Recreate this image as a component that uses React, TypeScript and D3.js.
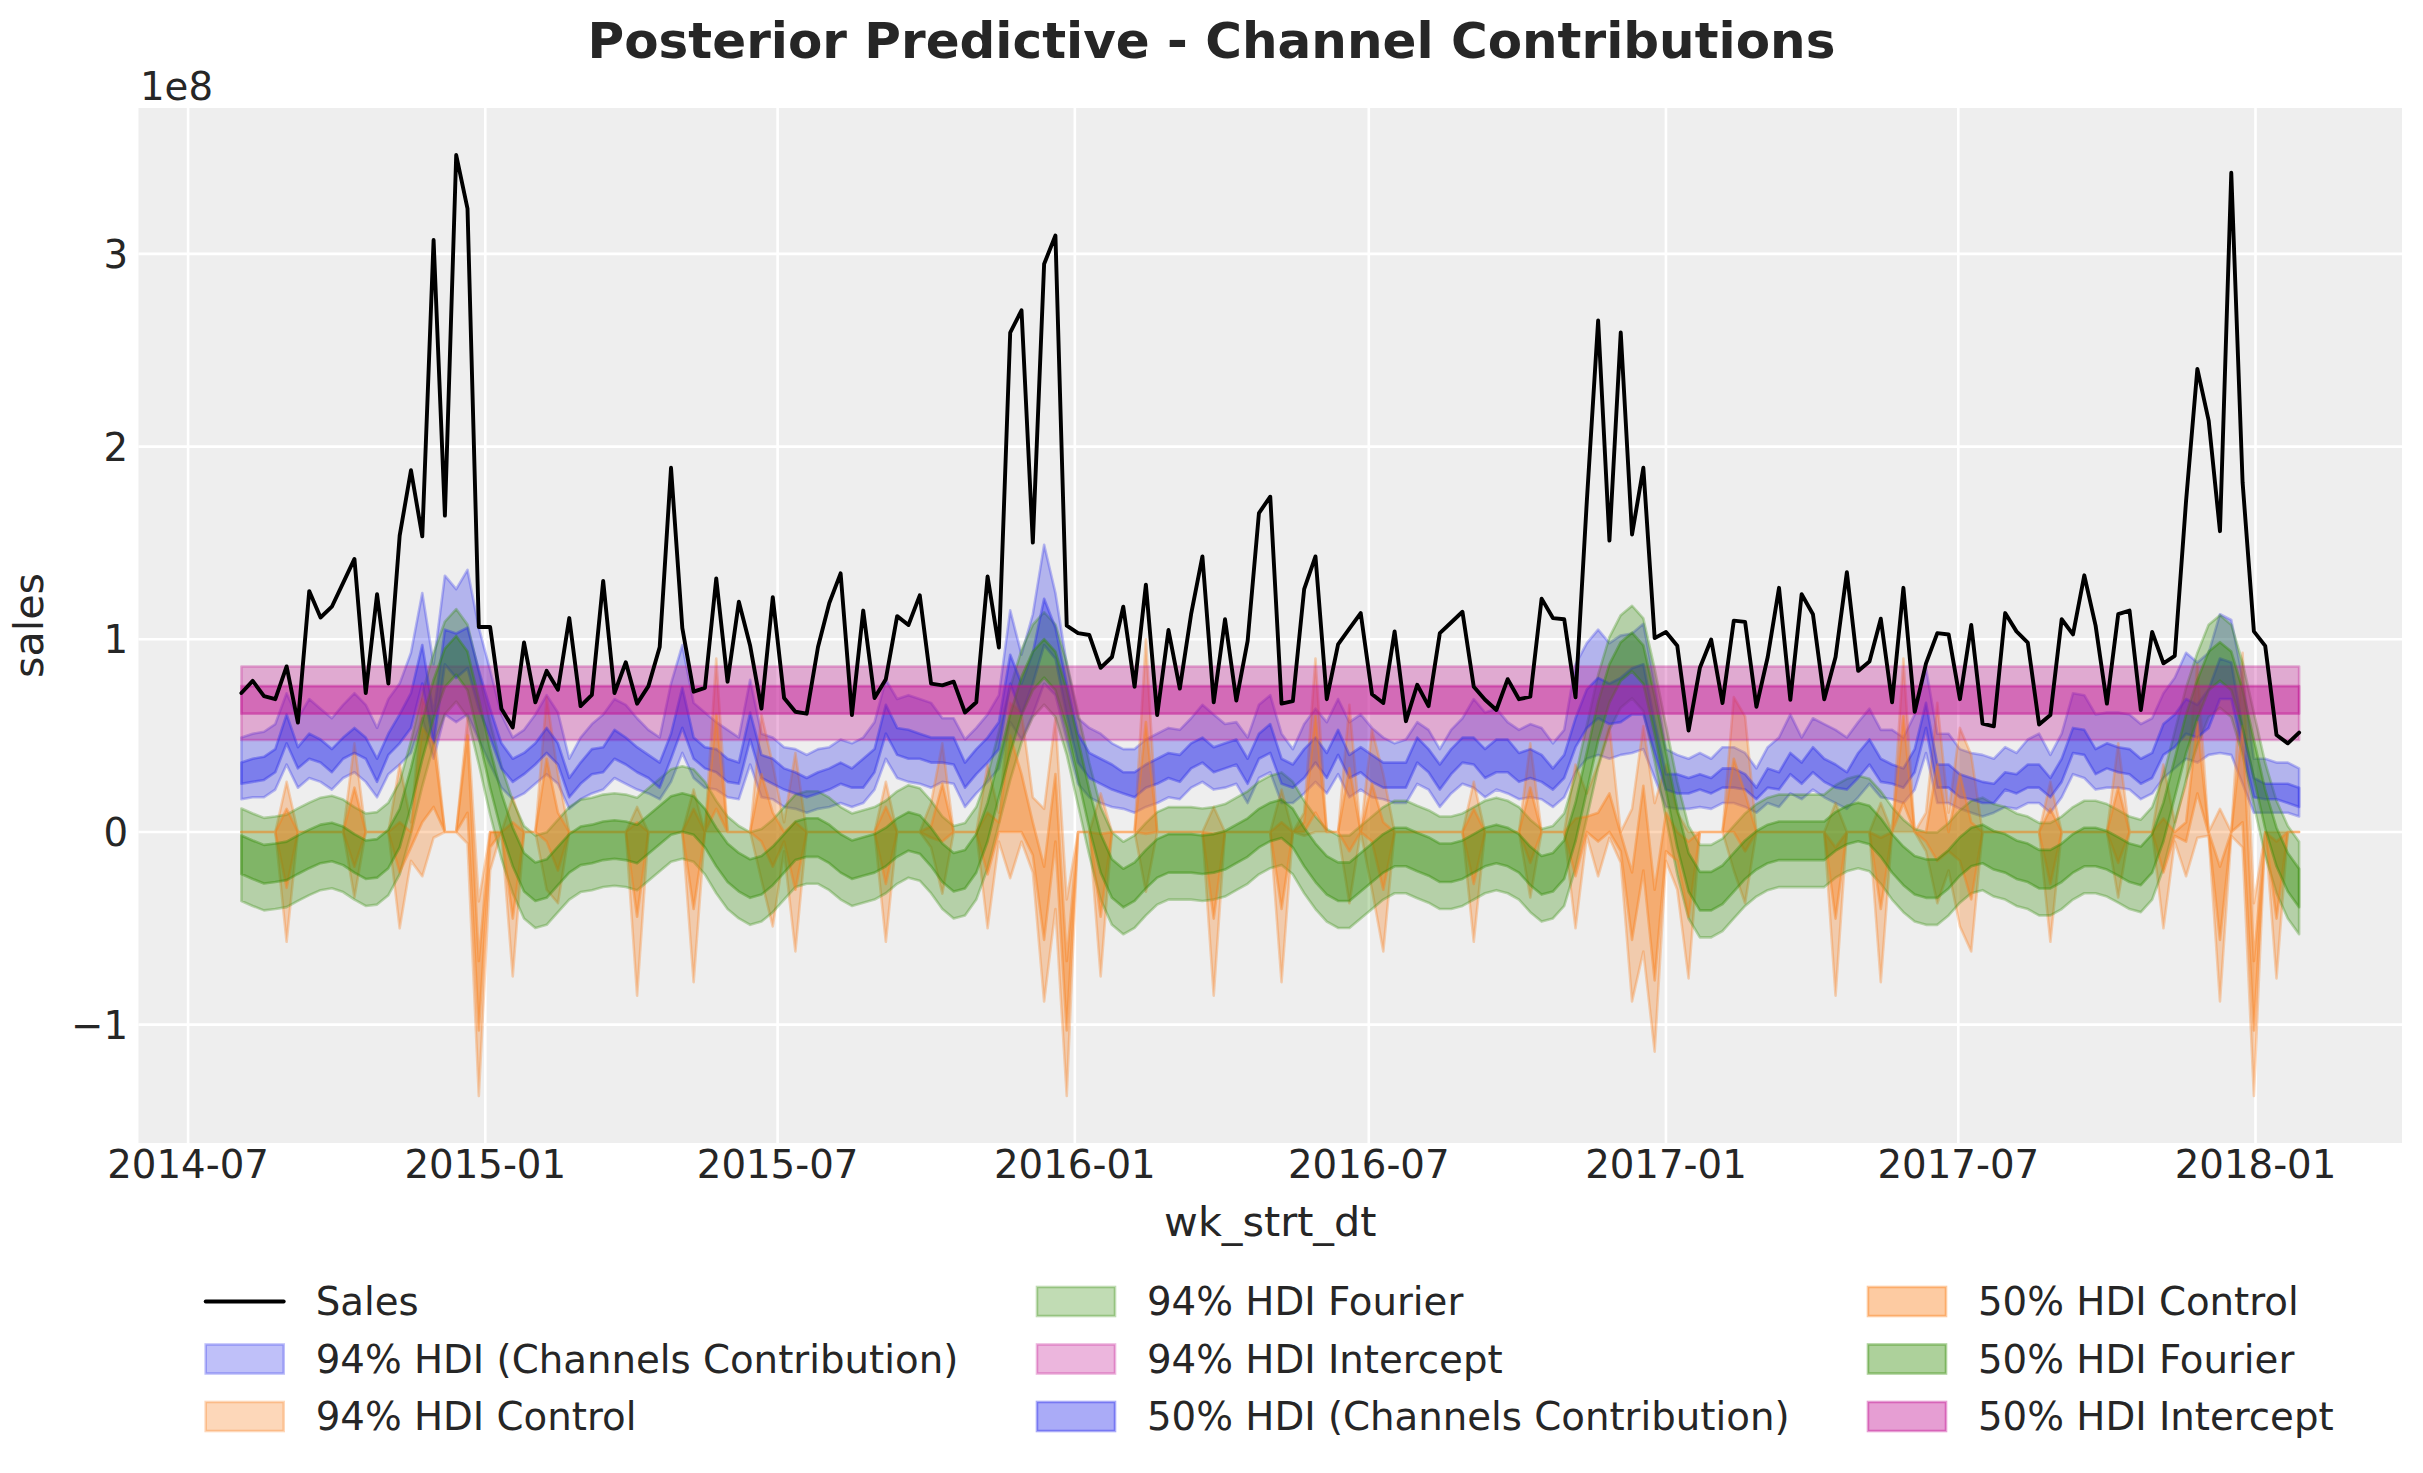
import React from 'react';
import * as d3 from 'd3';

// ---------- data (values in units of 1e8) ----------
const startDate = new Date(2014, 7, 3);

const sales = [
  0.721,0.784,0.705,0.689,0.859,0.568,1.250,1.113,1.169,1.293,
  1.417,0.721,1.234,0.770,1.538,1.877,1.534,3.072,1.642,3.513,
  3.235,1.064,1.064,0.640,0.542,0.983,0.673,0.836,0.738,1.110,
  0.653,0.712,1.303,0.721,0.881,0.666,0.757,0.960,1.890,1.058,
  0.728,0.748,1.316,0.780,1.195,0.966,0.640,1.218,0.695,0.624,
  0.614,0.960,1.188,1.342,0.607,1.149,0.695,0.793,1.120,1.074,
  1.228,0.770,0.761,0.780,0.620,0.673,1.326,0.957,2.592,2.707,
  1.502,2.948,3.095,1.071,1.032,1.022,0.852,0.908,1.169,0.754,
  1.283,0.607,1.048,0.744,1.130,1.430,0.673,1.104,0.682,0.992,
  1.655,1.740,0.666,0.679,1.260,1.430,0.689,0.973,1.055,1.136,
  0.715,0.669,1.041,0.575,0.764,0.653,1.032,1.087,1.143,0.754,
  0.686,0.633,0.793,0.689,0.702,1.211,1.110,1.104,0.699,1.717,
  2.654,1.512,2.592,1.544,1.890,1.006,1.038,0.966,0.526,0.852,
  0.999,0.669,1.097,1.090,0.650,0.908,1.267,0.686,1.234,1.130,
  0.689,0.908,1.348,0.836,0.885,1.107,0.673,1.267,0.624,0.875,
  1.032,1.025,0.689,1.074,0.562,0.548,1.136,1.041,0.983,0.558,
  0.607,1.104,1.025,1.332,1.071,0.666,1.130,1.149,0.633,1.038,
  0.875,0.914,1.717,2.403,2.135,1.561,3.421,1.815,1.041,0.966,
  0.503,0.460,0.516,
];

const channelHi94 = [
  0.49,0.51,0.52,0.56,0.72,0.59,0.69,0.64,0.59,0.66,
  0.72,0.66,0.54,0.69,0.77,0.93,1.24,0.87,1.33,1.26,
  1.36,1.06,0.84,0.61,0.49,0.53,0.61,0.71,0.62,0.38,
  0.49,0.56,0.61,0.69,0.66,0.59,0.53,0.49,0.77,0.97,
  0.67,0.62,0.57,0.53,0.49,0.79,0.51,0.49,0.44,0.43,
  0.40,0.43,0.44,0.48,0.46,0.49,0.57,0.79,0.69,0.71,
  0.69,0.67,0.59,0.59,0.48,0.54,0.61,0.71,1.15,0.92,
  1.13,1.49,1.24,0.87,0.59,0.54,0.51,0.46,0.43,0.43,
  0.48,0.51,0.54,0.53,0.59,0.66,0.61,0.56,0.57,0.49,
  0.66,0.71,0.51,0.43,0.56,0.64,0.57,0.69,0.57,0.61,
  0.54,0.49,0.46,0.48,0.57,0.53,0.43,0.53,0.59,0.69,
  0.62,0.64,0.57,0.53,0.56,0.54,0.46,0.53,0.87,0.98,
  1.05,0.98,1.02,1.03,1.08,0.77,0.43,0.40,0.38,0.41,
  0.38,0.44,0.44,0.41,0.33,0.44,0.49,0.61,0.49,0.59,
  0.56,0.53,0.49,0.57,0.64,0.53,0.53,0.49,0.61,0.85,
  0.51,0.51,0.43,0.41,0.40,0.38,0.44,0.41,0.48,0.51,
  0.40,0.51,0.72,0.71,0.61,0.62,0.62,0.61,0.56,0.59,
  0.72,0.80,0.93,0.88,0.93,1.13,1.10,0.80,0.38,0.38,
  0.36,0.36,0.33,
];
const channelHi50 = [
  0.36,0.38,0.39,0.43,0.61,0.44,0.51,0.48,0.43,0.49,
  0.54,0.49,0.38,0.51,0.61,0.72,0.97,0.61,1.05,1.03,
  1.06,0.84,0.64,0.46,0.38,0.41,0.46,0.54,0.46,0.28,
  0.36,0.43,0.44,0.53,0.49,0.44,0.40,0.36,0.51,0.75,
  0.49,0.44,0.43,0.38,0.36,0.62,0.40,0.38,0.33,0.31,
  0.28,0.31,0.33,0.36,0.33,0.38,0.43,0.66,0.54,0.53,
  0.51,0.49,0.49,0.49,0.36,0.43,0.49,0.57,0.92,0.77,
  0.93,1.21,1.06,0.77,0.51,0.41,0.38,0.35,0.31,0.31,
  0.35,0.38,0.41,0.40,0.46,0.49,0.44,0.46,0.48,0.38,
  0.51,0.56,0.38,0.35,0.43,0.49,0.41,0.53,0.40,0.44,
  0.40,0.36,0.36,0.36,0.49,0.43,0.35,0.43,0.49,0.49,
  0.43,0.48,0.48,0.41,0.43,0.40,0.33,0.40,0.59,0.74,
  0.80,0.77,0.80,0.85,0.87,0.57,0.30,0.30,0.28,0.30,
  0.28,0.33,0.33,0.30,0.23,0.33,0.31,0.41,0.36,0.44,
  0.38,0.35,0.31,0.41,0.48,0.38,0.35,0.33,0.43,0.67,
  0.35,0.35,0.30,0.28,0.26,0.25,0.31,0.30,0.35,0.35,
  0.28,0.38,0.54,0.53,0.43,0.46,0.44,0.43,0.38,0.41,
  0.56,0.61,0.69,0.66,0.74,0.90,0.88,0.54,0.28,0.25,
  0.25,0.25,0.23,
];
const channelLo50 = [
  0.25,0.26,0.27,0.31,0.46,0.33,0.38,0.36,0.31,0.38,
  0.41,0.38,0.26,0.40,0.46,0.54,0.77,0.46,0.87,0.80,
  0.85,0.64,0.49,0.33,0.26,0.30,0.35,0.41,0.35,0.18,
  0.25,0.30,0.31,0.38,0.35,0.31,0.28,0.23,0.38,0.54,
  0.38,0.33,0.31,0.26,0.25,0.48,0.28,0.25,0.22,0.20,
  0.18,0.20,0.22,0.25,0.23,0.23,0.31,0.51,0.40,0.38,
  0.38,0.36,0.36,0.35,0.23,0.30,0.36,0.43,0.77,0.61,
  0.77,0.97,0.90,0.61,0.36,0.28,0.25,0.22,0.20,0.18,
  0.23,0.25,0.28,0.26,0.33,0.36,0.31,0.33,0.35,0.25,
  0.38,0.41,0.25,0.23,0.28,0.36,0.28,0.40,0.28,0.31,
  0.26,0.23,0.23,0.23,0.36,0.31,0.22,0.30,0.36,0.35,
  0.28,0.31,0.31,0.26,0.28,0.26,0.22,0.28,0.44,0.54,
  0.59,0.56,0.57,0.61,0.61,0.41,0.22,0.20,0.20,0.22,
  0.20,0.23,0.23,0.22,0.17,0.23,0.22,0.30,0.25,0.31,
  0.26,0.23,0.22,0.28,0.35,0.26,0.25,0.23,0.31,0.54,
  0.23,0.23,0.18,0.17,0.15,0.15,0.22,0.20,0.23,0.23,
  0.18,0.26,0.41,0.40,0.30,0.33,0.31,0.30,0.25,0.28,
  0.40,0.44,0.51,0.49,0.54,0.69,0.69,0.43,0.18,0.17,
  0.17,0.15,0.13,
];
const channelLo94 = [
  0.17,0.18,0.18,0.22,0.35,0.23,0.28,0.26,0.22,0.28,
  0.31,0.26,0.18,0.30,0.35,0.41,0.59,0.38,0.61,0.57,
  0.61,0.48,0.35,0.23,0.17,0.20,0.25,0.30,0.25,0.12,
  0.17,0.20,0.22,0.28,0.25,0.22,0.20,0.17,0.26,0.41,
  0.28,0.23,0.22,0.18,0.17,0.35,0.18,0.17,0.13,0.12,
  0.10,0.12,0.13,0.15,0.13,0.15,0.22,0.38,0.28,0.26,
  0.25,0.23,0.26,0.25,0.13,0.20,0.26,0.33,0.57,0.48,
  0.61,0.77,0.71,0.48,0.25,0.18,0.15,0.13,0.12,0.10,
  0.13,0.15,0.18,0.17,0.23,0.26,0.22,0.23,0.25,0.15,
  0.28,0.31,0.15,0.15,0.20,0.26,0.20,0.30,0.18,0.22,
  0.18,0.17,0.15,0.15,0.25,0.22,0.13,0.20,0.25,0.23,
  0.18,0.22,0.20,0.17,0.18,0.17,0.13,0.18,0.31,0.38,
  0.40,0.38,0.40,0.41,0.43,0.28,0.13,0.12,0.12,0.13,
  0.12,0.15,0.15,0.13,0.10,0.15,0.13,0.20,0.17,0.22,
  0.18,0.15,0.12,0.18,0.25,0.18,0.17,0.15,0.22,0.41,
  0.15,0.15,0.12,0.10,0.08,0.10,0.13,0.12,0.15,0.15,
  0.10,0.18,0.30,0.28,0.22,0.23,0.23,0.22,0.17,0.20,
  0.28,0.33,0.38,0.36,0.40,0.41,0.40,0.25,0.10,0.10,
  0.10,0.10,0.08,
];

const fourierMid = [
  -0.118,-0.144,-0.167,-0.160,-0.150,-0.118,-0.088,-0.062,-0.052,-0.072,
  -0.111,-0.144,-0.137,-0.088,0.020,0.232,0.477,0.689,0.852,0.917,
  0.836,0.591,0.330,0.101,-0.078,-0.209,-0.258,-0.242,-0.176,-0.111,
  -0.072,-0.062,-0.046,-0.039,-0.046,-0.062,-0.013,0.036,0.085,0.101,
  0.085,0.020,-0.078,-0.160,-0.209,-0.242,-0.225,-0.176,-0.111,-0.046,
  -0.029,-0.029,-0.062,-0.111,-0.144,-0.127,-0.111,-0.078,-0.029,0.003,
  -0.013,-0.078,-0.160,-0.209,-0.193,-0.111,0.052,0.281,0.509,0.705,
  0.836,0.901,0.836,0.640,0.379,0.118,-0.111,-0.242,-0.291,-0.258,
  -0.193,-0.137,-0.111,-0.111,-0.111,-0.118,-0.111,-0.095,-0.062,-0.029,
  0.020,0.052,0.069,0.020,-0.078,-0.160,-0.225,-0.258,-0.258,-0.209,
  -0.160,-0.111,-0.078,-0.078,-0.104,-0.127,-0.160,-0.160,-0.144,-0.111,
  -0.078,-0.062,-0.078,-0.111,-0.176,-0.225,-0.209,-0.144,0.052,0.313,
  0.575,0.771,0.885,0.934,0.868,0.607,0.313,0.020,-0.209,-0.307,
  -0.307,-0.274,-0.209,-0.144,-0.095,-0.062,-0.046,-0.046,-0.046,-0.046,
  -0.046,0.003,0.036,0.052,0.036,-0.029,-0.111,-0.176,-0.225,-0.242,
  -0.242,-0.193,-0.127,-0.078,-0.062,-0.095,-0.111,-0.144,-0.160,-0.193,
  -0.193,-0.160,-0.111,-0.078,-0.078,-0.095,-0.127,-0.160,-0.176,-0.111,
  0.052,0.281,0.509,0.689,0.836,0.885,0.836,0.640,0.379,0.118,
  -0.078,-0.209,-0.291,
];
const fourierHalf50 = 0.1;
const fourierHalf94 = 0.24;

const interceptHdi94 = [0.477, 0.859];
const interceptHdi50 = [0.614, 0.757];

// control contribution: zero except in these weeks
const controlWeeks = [
  4,10,14,15,16,17,20,21,22,24, 27,28,35,40,42,46,47,48,49,57,
  61,62,66,67,68,69,70,71,72,73, 76,80,86,92,94,95,98,100,101,109,
  114,118,119,120,121,122,123,124,125,126, 127,128,132,133,141,145,147,149,150,151,
  152,153,160,166,170,171,172,173,174,175, 176,177,178,180,
];
const controlHi94 = [
  0.26,0.46,0.35,0.05,0.69,0.56,0.59,-0.36,0.00,0.18,
  0.70,0.30,0.13,0.22,0.90,0.61,0.35,0.05,0.41,0.26,
  0.15,0.46,0.35,0.10,0.67,0.62,0.18,0.12,0.59,-0.35,
  0.20,1.00,0.13,0.22,0.10,0.90,0.66,0.53,0.30,0.26,
  0.46,0.35,0.20,0.35,0.55,0.00,0.12,0.55,0.15,0.35,
  0.10,0.00,0.70,0.60,0.15,0.15,0.90,0.10,0.67,0.10,
  0.54,0.40,0.26,0.46,0.35,0.05,0.25,0.87,0.00,0.12,
  0.00,0.93,-0.37,0.00,
];
const controlHi50 = [
  0.12,0.23,0.05,0.00,0.54,0.46,0.50,-0.67,0.00,0.05,
  0.38,0.10,0.05,0.12,0.61,0.30,0.10,0.00,0.05,0.13,
  0.03,0.25,0.10,0.05,0.50,0.30,0.05,-0.18,0.30,-0.67,
  -0.01,0.57,-0.01,0.05,0.05,0.60,0.33,0.25,0.05,0.12,
  0.23,0.07,0.08,0.10,0.20,-0.01,-0.21,0.24,-0.30,0.10,
  0.00,-0.05,0.38,0.20,-0.08,-0.03,0.60,0.00,0.35,0.00,
  0.30,0.05,0.12,0.23,0.07,0.00,0.05,0.57,0.00,-0.18,
  0.00,0.55,-0.67,-0.05,
];
const controlLo50 = [
  -0.29,-0.18,-0.21,-0.08,0.05,0.13,0.10,-1.03,-0.08,-0.45,
  -0.05,-0.20,-0.44,-0.40,0.12,-0.05,-0.18,-0.05,-0.30,-0.27,
  -0.03,-0.05,-0.22,0.00,0.00,0.00,-0.12,-0.56,-0.05,-1.03,
  -0.44,-0.01,-0.45,-0.40,0.00,0.10,-0.10,-0.05,-0.30,-0.27,
  -0.16,-0.23,0.00,-0.05,0.00,-0.10,-0.56,-0.20,-0.77,-0.10,
  -0.15,-0.44,0.00,-0.10,-0.45,-0.40,0.15,-0.05,-0.15,-0.10,
  -0.15,-0.35,-0.27,-0.16,-0.21,-0.02,-0.05,0.20,-0.01,-0.56,
  0.00,0.05,-1.03,-0.45,
];
const controlLo94 = [
  -0.57,-0.34,-0.50,-0.15,-0.23,-0.03,-0.06,-1.37,-0.20,-0.75,
  -0.30,-0.37,-0.85,-0.78,0.00,-0.25,-0.49,-0.10,-0.62,-0.57,
  -0.08,-0.32,-0.50,-0.05,-0.24,-0.05,-0.21,-0.88,-0.40,-1.37,
  -0.75,-0.31,-0.85,-0.78,-0.02,0.00,-0.37,-0.30,-0.62,-0.57,
  -0.34,-0.50,-0.02,-0.23,-0.03,-0.16,-0.88,-0.62,-1.14,-0.15,
  -0.30,-0.76,-0.20,-0.37,-0.85,-0.78,0.00,-0.10,-0.37,-0.20,
  -0.49,-0.62,-0.57,-0.34,-0.50,-0.05,-0.23,-0.03,-0.02,-0.88,
  -0.02,-0.08,-1.37,-0.76,
];

const xTickLabels = ['2014-07', '2015-01', '2015-07', '2016-01', '2016-07', '2017-01', '2017-07', '2018-01'];
const yTickValues = [-1, 0, 1, 2, 3];

const legendLabels = [
  'Sales',
  '94% HDI (Channels Contribution)',
  '94% HDI Control',
  '94% HDI Fourier',
  '94% HDI Intercept',
  '50% HDI (Channels Contribution)',
  '50% HDI Control',
  '50% HDI Fourier',
  '50% HDI Intercept',
];

// ---------- styling ----------
const C_BLUE = '#2a2eec';
const C_ORANGE = '#fa7c17';
const C_GREEN = '#328c06';
const C_MAGENTA = '#c10c90';
const FONT = "'DejaVu Sans', Verdana, sans-serif";
const TEXT = '#262626';

export default function App() {
  const W = 2423;
  const H = 1473;
  const plot = { left: 138.5, right: 2402, top: 108, bottom: 1143 };

  const n = sales.length;
  const dates = sales.map((_, i) => d3.timeDay.offset(startDate, 7 * i));

  const expand = (idx: number[], vals: number[]) => {
    const out = new Array(n).fill(0);
    idx.forEach((k, j) => { out[k] = vals[j]; });
    return out;
  };
  const ctrlHi94 = expand(controlWeeks, controlHi94);
  const ctrlHi50 = expand(controlWeeks, controlHi50);
  const ctrlLo50 = expand(controlWeeks, controlLo50);
  const ctrlLo94 = expand(controlWeeks, controlLo94);

  const t0 = +dates[0];
  const t1 = +dates[n - 1];
  const xm = (t1 - t0) * 0.05;
  const x = d3.scaleTime().domain([new Date(t0 - xm), new Date(t1 + xm)]).range([plot.left, plot.right]);

  const allLo = d3.min([...sales, ...channelLo94, ...ctrlLo94, ...fourierMid.map(v => v - fourierHalf94), interceptHdi94[0]]) as number;
  const allHi = d3.max([...sales, ...channelHi94, ...ctrlHi94, ...fourierMid.map(v => v + fourierHalf94), interceptHdi94[1]]) as number;
  const ym = (allHi - allLo) * 0.05;
  const y = d3.scaleLinear().domain([allLo - ym, allHi + ym]).range([plot.bottom, plot.top]);

  const band = (lo: (i: number) => number, hi: (i: number) => number) =>
    d3.area<Date>()
      .x(d => x(d))
      .y0((_, i) => y(lo(i)))
      .y1((_, i) => y(hi(i)))(dates) as string;

  const bands = [
    { color: C_BLUE, alpha: 0.3, d: band(i => channelLo94[i], i => channelHi94[i]) },
    { color: C_ORANGE, alpha: 0.3, d: band(i => ctrlLo94[i], i => ctrlHi94[i]) },
    { color: C_GREEN, alpha: 0.3, d: band(i => fourierMid[i] - fourierHalf94, i => fourierMid[i] + fourierHalf94) },
    { color: C_MAGENTA, alpha: 0.3, d: band(() => interceptHdi94[0], () => interceptHdi94[1]) },
    { color: C_BLUE, alpha: 0.4, d: band(i => channelLo50[i], i => channelHi50[i]) },
    { color: C_ORANGE, alpha: 0.4, d: band(i => ctrlLo50[i], i => ctrlHi50[i]) },
    { color: C_GREEN, alpha: 0.4, d: band(i => fourierMid[i] - fourierHalf50, i => fourierMid[i] + fourierHalf50) },
    { color: C_MAGENTA, alpha: 0.4, d: band(() => interceptHdi50[0], () => interceptHdi50[1]) },
  ];

  const salesPath = d3.line<number>()
    .x((_, i) => x(dates[i]))
    .y(v => y(v))(sales) as string;

  const parseMonth = d3.timeParse('%Y-%m');
  const xTicks = xTickLabels.map(l => ({ label: l, pos: x(parseMonth(l) as Date) }));

  const legendStyles = [
    null,
    { color: C_BLUE, alpha: 0.3 },
    { color: C_ORANGE, alpha: 0.3 },
    { color: C_GREEN, alpha: 0.3 },
    { color: C_MAGENTA, alpha: 0.3 },
    { color: C_BLUE, alpha: 0.4 },
    { color: C_ORANGE, alpha: 0.4 },
    { color: C_GREEN, alpha: 0.4 },
    { color: C_MAGENTA, alpha: 0.4 },
  ];
  const legendColX = [205.7, 1037, 1868];
  const legendRowY = [1301.5, 1359, 1416.5];
  const tickFont = 38.7;

  return (
    <svg width={W} height={H} viewBox={`0 0 ${W} ${H}`} style={{ position: 'absolute', left: 0, top: 0, background: '#ffffff' }}
      fontFamily={FONT}>
      <rect x={0} y={0} width={W} height={H} fill="#ffffff" />
      <rect x={plot.left} y={plot.top} width={plot.right - plot.left} height={plot.bottom - plot.top} fill="#eeeeee" />
      <clipPath id="plotclip">
        <rect x={plot.left} y={plot.top} width={plot.right - plot.left} height={plot.bottom - plot.top} />
      </clipPath>

      {/* grid */}
      {xTicks.map(t => (
        <line key={t.label} x1={t.pos} x2={t.pos} y1={plot.top} y2={plot.bottom} stroke="#ffffff" strokeWidth={2.6} />
      ))}
      {yTickValues.map(v => (
        <line key={v} x1={plot.left} x2={plot.right} y1={y(v)} y2={y(v)} stroke="#ffffff" strokeWidth={2.6} />
      ))}

      {/* bands */}
      <g clipPath="url(#plotclip)">
        {bands.map((b, i) => (
          <path key={i} d={b.d} fill={b.color} fillOpacity={b.alpha} stroke={b.color} strokeOpacity={b.alpha}
            strokeWidth={2.6} strokeLinejoin="round" />
        ))}
        <path d={salesPath} fill="none" stroke="#000000" strokeWidth={3.9} strokeLinejoin="round" strokeLinecap="round" />
      </g>

      {/* x tick labels */}
      {xTicks.map(t => (
        <text key={t.label} x={t.pos} y={1178} textAnchor="middle" fontSize={tickFont} fill={TEXT}>{t.label}</text>
      ))}
      {/* y tick labels */}
      {yTickValues.map(v => (
        <text key={v} x={128} y={y(v)} dy="0.36em" textAnchor="end" fontSize={tickFont} fill={TEXT}>
          {v < 0 ? `\u2212${Math.abs(v)}` : `${v}`}
        </text>
      ))}
      <text x={140} y={100} fontSize={tickFont} fill={TEXT}>1e8</text>

      {/* axis labels */}
      <text x={(plot.left + plot.right) / 2} y={1236} textAnchor="middle" fontSize={41.3} fill={TEXT}>wk_strt_dt</text>
      <text transform={`translate(43, ${(plot.top + plot.bottom) / 2}) rotate(-90)`} textAnchor="middle" fontSize={41.3} fill={TEXT}>sales</text>

      {/* title */}
      <text x={W / 2} y={58} textAnchor="middle" fontSize={50} fontWeight="bold" fill={TEXT}>
        Posterior Predictive - Channel Contributions
      </text>

      {/* legend */}
      {legendLabels.map((label, i) => {
        const col = Math.floor(i / 3);
        const row = i % 3;
        const lx = legendColX[col];
        const ly = legendRowY[row];
        const st = legendStyles[i];
        return (
          <g key={label}>
            {st === null ? (
              <line x1={lx} x2={lx + 78} y1={ly} y2={ly} stroke="#000000" strokeWidth={3.9} strokeLinecap="round" />
            ) : (
              <rect x={lx} y={ly - 14.5} width={78} height={29} fill={st.color} fillOpacity={st.alpha}
                stroke={st.color} strokeOpacity={st.alpha} strokeWidth={2.6} />
            )}
            <text x={lx + 110} y={ly + 13.5} fontSize={tickFont} fill={TEXT}>{label}</text>
          </g>
        );
      })}
    </svg>
  );
}
